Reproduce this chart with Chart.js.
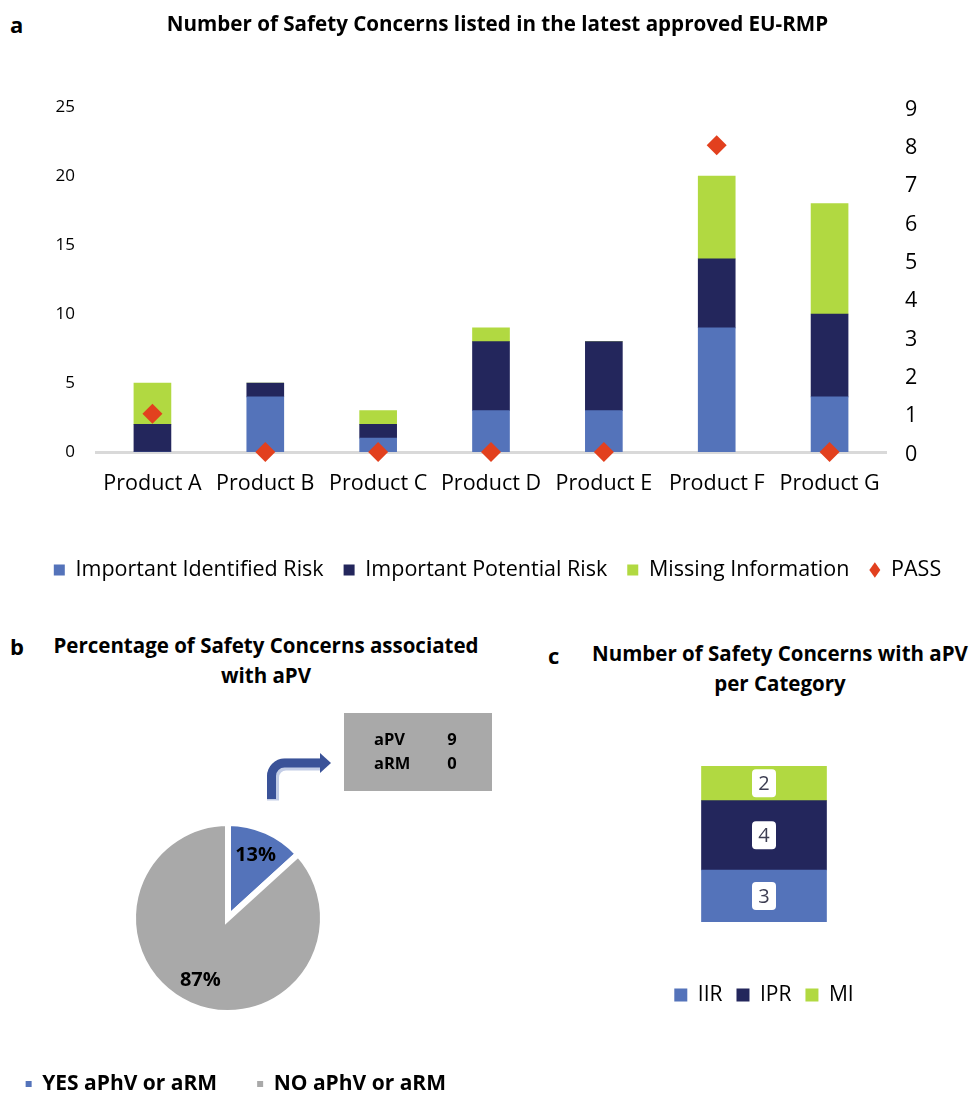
<!DOCTYPE html>
<html>
<head>
<meta charset="utf-8">
<title>Safety Concerns in EU-RMPs</title>
<script src="https://cdn.jsdelivr.net/npm/chart.js@4.4.1/dist/chart.umd.min.js"></script>
<style>
  html, body { margin: 0; padding: 0; background: #fff; overflow: hidden; width: 971px; height: 1096px; }
  body { position: relative; font-family: 'Open Sans', sans-serif; color: #000; }
  .abs { position: absolute; }
  .letter { font-weight: 700; font-size: 22px; line-height: 26px; }
  .ptitle { font-weight: 700; font-size: 20.5px; line-height: 30px; text-align: center; white-space: nowrap; }
  canvas { display: block; }
</style>
</head>
<body>
<div class="abs letter" style="left:10px;top:11px">a</div>
<div class="abs letter" style="left:10px;top:633px">b</div>
<div class="abs letter" style="left:548px;top:642px">c</div>
<div class="abs ptitle" style="left:16px;width:500px;top:630px">Percentage of Safety Concerns associated<br>with aPV</div>
<div class="abs ptitle" style="left:530px;width:500px;top:638px">Number of Safety Concerns with aPV<br>per Category</div>

<canvas id="chartA" class="abs" width="971" height="600" style="left:0;top:0"></canvas>
<canvas id="chartB" class="abs" width="530" height="410" style="left:-30px;top:700px"></canvas>
<canvas id="chartC" class="abs" width="240" height="300" style="left:644px;top:740px"></canvas>

<script>
// ---- Panel a: safety concerns per product ----
const products = ['Product A', 'Product B', 'Product C', 'Product D', 'Product E', 'Product F', 'Product G'];
const identifiedRisk = [0, 4, 1, 3, 3, 9, 4];
const potentialRisk  = [2, 1, 1, 5, 5, 5, 6];
const missingInfo    = [3, 0, 1, 1, 0, 6, 8];
const passStudies    = [1, 0, 0, 0, 0, 8, 0];

// ---- Panel b: share of concerns with additional measures ----
const apvShareLabels = ['YES aPhV or aRM', 'NO aPhV or aRM'];
const apvShareCounts = [9, 59];
const measureNames  = ['aPV', 'aRM'];
const measureCounts = [9, 0];

// ---- Panel c: concerns with aPV per category ----
const categoryNames  = ['IIR', 'IPR', 'MI'];
const categoryCounts = [3, 4, 2];

const BLUE = '#5473ba';
const NAVY = '#23265c';
const GREEN = '#b1d941';
const RED = '#e2401e';
const GRAY = '#a9a9a9';

Chart.defaults.font.family = "'Open Sans', sans-serif";
Chart.defaults.color = '#000';
Chart.defaults.animation = false;

// ---------- Panel a ----------
new Chart(document.getElementById('chartA'), {
  type: 'bar',
  data: {
    labels: products,
    datasets: [
      { label: 'Important Identified Risk', data: identifiedRisk, backgroundColor: BLUE, barThickness: 37, order: 1, yAxisID: 'y' },
      { label: 'Important Potential Risk', data: potentialRisk, backgroundColor: NAVY, barThickness: 37, order: 1, yAxisID: 'y' },
      { label: 'Missing Information', data: missingInfo, backgroundColor: GREEN, barThickness: 37, order: 1, yAxisID: 'y' },
      { type: 'line', label: 'PASS', data: passStudies, yAxisID: 'y1', showLine: false,
        pointStyle: 'rectRot', pointRadius: 10, pointHoverRadius: 10,
        pointBackgroundColor: RED, pointBorderWidth: 0, backgroundColor: RED, borderColor: RED,
        borderWidth: 0, clip: false, order: 0 }
    ]
  },
  options: {
    responsive: false,
    animation: false,
    layout: { padding: { left: 24, right: 0, top: 0, bottom: 9.25 } },
    plugins: {
      title: {
        display: true,
        text: 'Number of Safety Concerns listed in the latest approved EU-RMP',
        font: { size: 20.6, weight: 'bold' },
        color: '#000',
        padding: { top: 12.6, bottom: 69.7 }
      },
      legend: {
        position: 'bottom',
        labels: {
          usePointStyle: true,
          pointStyleWidth: 11,
          boxHeight: 11,
          padding: 20,
          font: { size: 21.5 },
          color: '#000',
          sort: (a, b) => a.datasetIndex - b.datasetIndex,
          generateLabels(chart) {
            const items = Chart.defaults.plugins.legend.labels.generateLabels(chart);
            items.forEach(it => {
              it.pointStyle = chart.data.datasets[it.datasetIndex].type === 'line' ? 'rectRot' : 'rect';
              it.lineWidth = 0;
            });
            return items;
          }
        }
      },
      tooltip: { enabled: false }
    },
    scales: {
      x: {
        stacked: true,
        grid: { display: false, drawTicks: false },
        border: { display: true, color: '#d9d9d9', width: 3 },
        ticks: { font: { size: 21.5 }, color: '#000', padding: 19 },
        afterFit: s => { s.height = 87.25; }
      },
      y: {
        stacked: true,
        position: 'left',
        min: 0, max: 25,
        ticks: { stepSize: 5, font: { size: 17 }, color: '#000', padding: 21 },
        grid: { display: false, drawTicks: false },
        border: { display: false },
        afterFit: s => { s.width = 72; }
      },
      y1: {
        position: 'right',
        min: 0, max: 9,
        ticks: { stepSize: 1, font: { size: 21.5 }, color: '#000', padding: 19, labelOffset: 2.5 },
        grid: { display: false, drawTicks: false },
        border: { display: false },
        afterFit: s => { s.width = 85; }
      }
    }
  }
});

// ---------- Panel b ----------
// percentage labels inside the slices
const sliceLabels = {
  id: 'sliceLabels',
  afterDatasetsDraw(chart) {
    const { ctx } = chart;
    const meta = chart.getDatasetMeta(0);
    const values = chart.data.datasets[0].data;
    const total = values.reduce((a, b) => a + b, 0);
    ctx.save();
    ctx.font = "bold 20px 'Open Sans', sans-serif";
    ctx.fillStyle = '#000';
    ctx.textAlign = 'center';
    ctx.textBaseline = 'middle';
    meta.data.forEach((arc, i) => {
      const p = arc.getProps(['x', 'y', 'startAngle', 'endAngle', 'outerRadius']);
      const mid = (p.startAngle + p.endAngle) / 2;
      const r = p.outerRadius * 0.72;
      const pct = Math.round(values[i] / total * 100) + '%';
      ctx.fillText(pct, p.x + Math.cos(mid) * r, p.y + Math.sin(mid) * r);
    });
    ctx.restore();
  }
};

// call-out box listing the additional measures, with a bent arrow
const measureCallout = {
  id: 'measureCallout',
  afterDraw(chart) {
    const { ctx } = chart;
    ctx.save();
    ctx.translate(30, 0); // canvas starts 30px left of the page edge
    // box
    ctx.fillStyle = GRAY;
    ctx.fillRect(344, 13, 148, 78);
    ctx.font = "bold 16.5px 'Open Sans', sans-serif";
    ctx.fillStyle = '#000';
    ctx.textBaseline = 'middle';
    measureNames.forEach((name, i) => {
      const y = 40 + i * 24;
      ctx.textAlign = 'left';
      ctx.fillText(name, 374, y);
      ctx.textAlign = 'center';
      ctx.fillText(String(measureCounts[i]), 452, y);
    });
    // bent arrow
    const path = () => {
      ctx.beginPath();
      ctx.moveTo(271.5, 99);
      ctx.lineTo(271.5, 76);
      ctx.arcTo(271.5, 63, 285, 63, 13);
      ctx.lineTo(321, 63);
    };
    ctx.lineCap = 'butt';
    ctx.lineJoin = 'miter';
    ctx.strokeStyle = '#c3cde6';
    ctx.lineWidth = 12;
    ctx.translate(1.5, 1.5);
    path(); ctx.stroke();
    ctx.translate(-1.5, -1.5);
    ctx.strokeStyle = '#3a5298';
    ctx.lineWidth = 9;
    path(); ctx.stroke();
    ctx.fillStyle = '#3a5298';
    ctx.beginPath();
    ctx.moveTo(320, 53);
    ctx.lineTo(331, 63);
    ctx.lineTo(320, 73);
    ctx.closePath();
    ctx.fill();
    ctx.restore();
  }
};

new Chart(document.getElementById('chartB'), {
  type: 'pie',
  data: {
    labels: apvShareLabels,
    datasets: [{
      data: apvShareCounts,
      backgroundColor: [BLUE, GRAY],
      borderColor: '#fff',
      borderWidth: 6,
      borderJoinStyle: 'miter'
    }]
  },
  options: {
    responsive: false,
    animation: false,
    radius: 95,
    layout: { padding: { top: 102.5, right: 14, bottom: 5.5, left: 0 } },
    plugins: {
      legend: {
        position: 'bottom',
        align: 'end',
        labels: {
          boxWidth: 6,
          boxHeight: 6,
          padding: 40,
          font: { size: 21, weight: 'bold' },
          color: '#000',
          generateLabels(chart) {
            const items = Chart.overrides.pie.plugins.legend.labels.generateLabels(chart);
            items.forEach(it => { it.lineWidth = 0; });
            return items;
          }
        }
      },
      tooltip: { enabled: false }
    }
  },
  plugins: [sliceLabels, measureCallout]
});

// ---------- Panel c ----------
// value tags in white rounded boxes
const valueTags = {
  id: 'valueTags',
  afterDatasetsDraw(chart) {
    const { ctx } = chart;
    ctx.save();
    ctx.font = "20px 'Open Sans', sans-serif";
    ctx.textAlign = 'center';
    ctx.textBaseline = 'middle';
    chart.data.datasets.forEach((ds, di) => {
      chart.getDatasetMeta(di).data.forEach((bar, i) => {
        const p = bar.getProps(['x', 'y', 'base']);
        const cy = (p.y + p.base) / 2;
        ctx.fillStyle = '#fff';
        ctx.beginPath();
        ctx.roundRect(p.x - 12, cy - 14, 24, 28, 4);
        ctx.fill();
        ctx.fillStyle = '#3d3e52';
        ctx.fillText(String(ds.data[i]), p.x, cy + 1);
      });
    });
    ctx.restore();
  }
};

const categoryColors = [BLUE, NAVY, GREEN];
new Chart(document.getElementById('chartC'), {
  type: 'bar',
  data: {
    labels: ['aPV'],
    datasets: categoryNames.map((name, i) => ({
      label: name,
      data: [categoryCounts[i]],
      backgroundColor: categoryColors[i],
      barThickness: 125
    }))
  },
  options: {
    responsive: false,
    animation: false,
    layout: { padding: { top: 26, bottom: 24.5, left: 0, right: 0 } },
    plugins: {
      legend: {
        position: 'bottom',
        labels: { boxWidth: 13, boxHeight: 13, padding: 14, font: { size: 21 }, color: '#000' }
      },
      tooltip: { enabled: false }
    },
    scales: {
      x: {
        stacked: true,
        display: true,
        ticks: { display: false },
        grid: { display: false, drawTicks: false },
        border: { display: false },
        afterFit: s => { s.height = 48.5; }
      },
      y: { stacked: true, display: false, min: 0, max: 9 }
    }
  },
  plugins: [valueTags]
});
</script>
</body>
</html>
